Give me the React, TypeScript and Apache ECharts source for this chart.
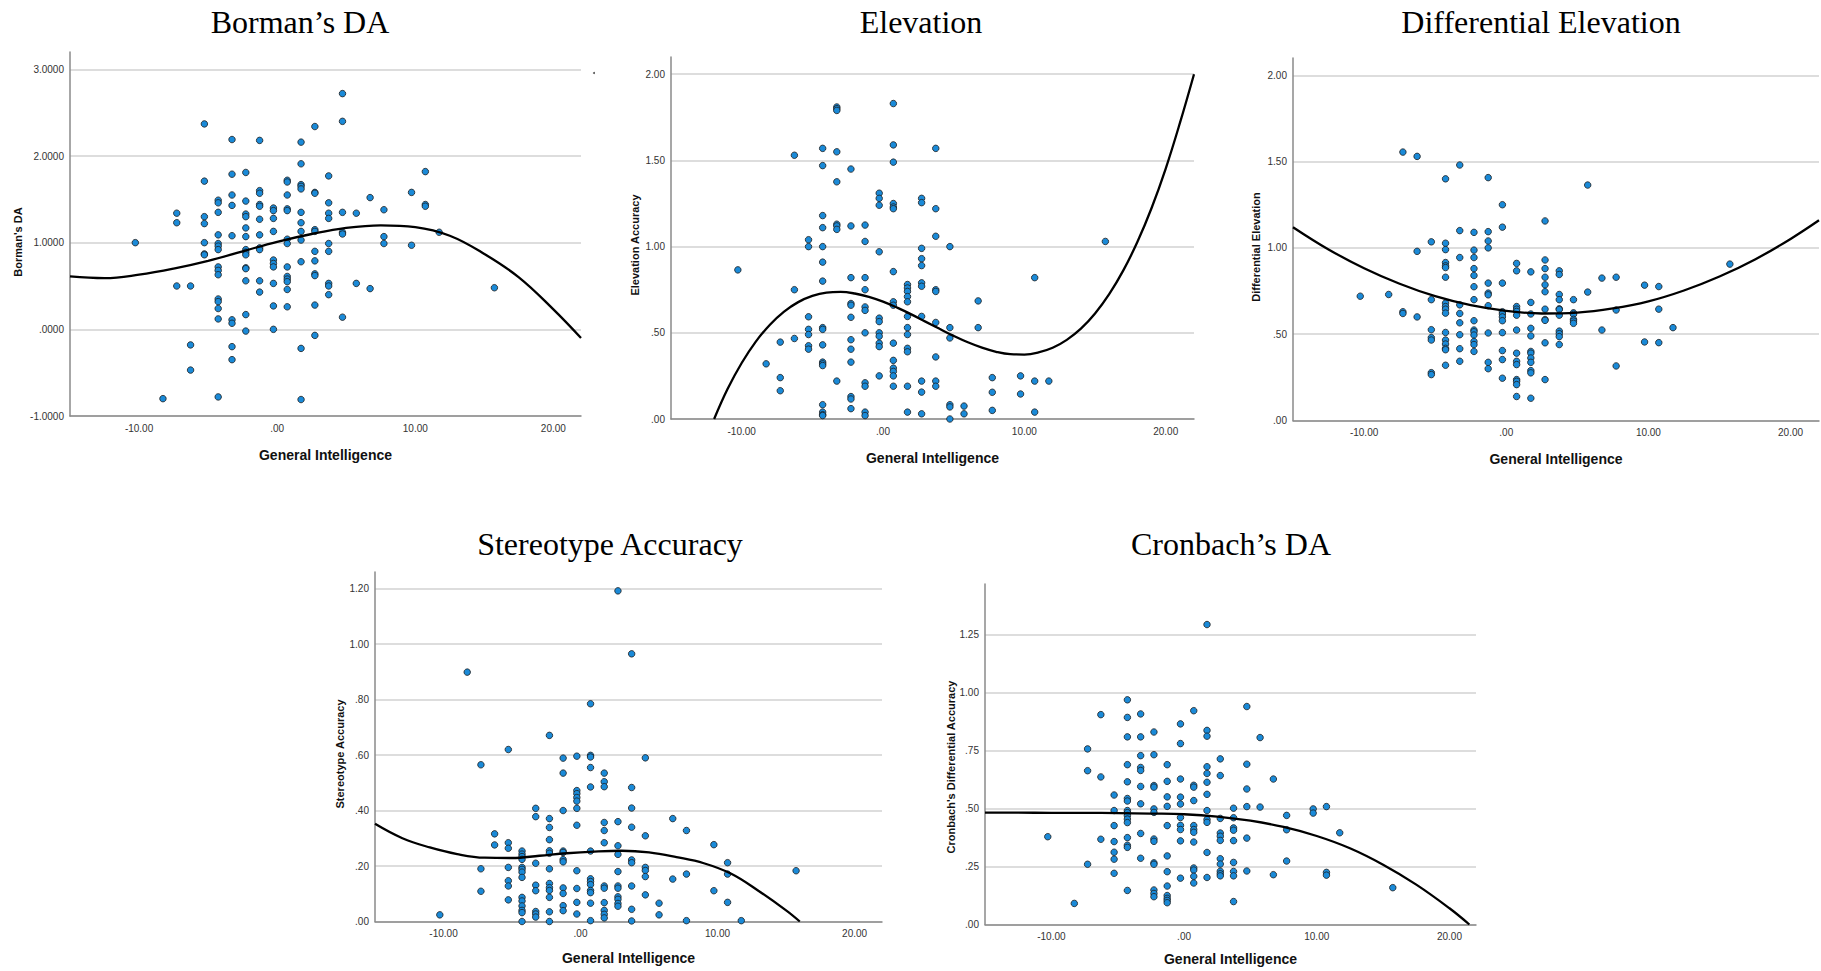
import React, { useEffect, useRef } from "react";
import * as echarts from "echarts";

// General Intelligence score columns (shared x positions of all panels)
const iqColumns = [-10.27, -8.27, -7.27, -6.27, -5.27, -4.27, -3.27, -2.27, -1.27, -0.27, 0.73, 1.73, 2.73, 3.73, 4.73, 5.73, 6.73, 7.73, 9.73, 10.73, 11.73, 15.73];

const xTickValues = [-10, 0, 10, 20];

// Borman's DA values per column
const bormanDA = [
  [1.0],
  [-0.8],
  [1.34, 1.23, 0.5],
  [0.5, -0.18, -0.47],
  [2.37, 1.71, 1.3, 1.22, 1.0, 0.87, 0.86],
  [1.49, 1.46, 1.35, 1.09, 0.99, 0.96, 0.92, 0.72, 0.68, 0.63, 0.35, 0.32, 0.24, 0.12, -0.78],
  [2.19, 1.79, 1.55, 1.43, 1.08, 0.11, 0.07, -0.2, -0.35],
  [1.81, 1.48, 1.33, 1.3, 1.17, 1.07, 0.92, 0.89, 0.86, 0.71, 0.7, 0.56, 0.17, -0.02],
  [2.18, 1.6, 1.57, 1.44, 1.42, 1.27, 1.09, 0.94, 0.92, 0.56, 0.43],
  [1.4, 1.37, 1.28, 1.13, 0.8, 0.76, 0.72, 0.53, 0.27, 0.0],
  [1.72, 1.7, 1.55, 1.39, 1.37, 1.04, 0.99, 0.72, 0.61, 0.58, 0.55, 0.46, 0.26],
  [2.16, 1.91, 1.67, 1.65, 1.62, 1.35, 1.23, 1.13, 1.03, 0.78, -0.22, -0.81],
  [2.34, 1.58, 1.57, 1.15, 1.13, 0.9, 0.79, 0.64, 0.62, 0.28, -0.07],
  [1.77, 1.46, 1.34, 1.28, 0.99, 0.9, 0.53, 0.5, 0.4],
  [2.72, 2.4, 1.35, 1.12, 1.1, 0.14],
  [1.34, 0.53],
  [1.52, 0.47],
  [1.38, 1.07, 0.99],
  [1.58, 0.97],
  [1.82, 1.44, 1.42],
  [1.12],
  [0.48],
];

// Elevation Accuracy values per column
const elevation = [
  [0.865],
  [0.32],
  [0.446, 0.24, 0.164],
  [1.53, 0.75, 0.467],
  [1.04, 1.0, 0.593, 0.52, 0.49, 0.425, 0.405],
  [1.57, 1.47, 1.18, 1.11, 1.0, 0.91, 0.8, 0.53, 0.52, 0.43, 0.33, 0.32, 0.31, 0.083, 0.04, 0.025, 0.02],
  [1.81, 1.8, 1.79, 1.55, 1.376, 1.13, 1.12, 1.1, 0.22],
  [1.45, 1.12, 0.82, 0.67, 0.66, 0.59, 0.46, 0.405, 0.33, 0.13, 0.116, 0.06],
  [1.125, 1.03, 0.82, 0.75, 0.65, 0.63, 0.5, 0.21, 0.19, 0.04, 0.02],
  [1.31, 1.28, 1.24, 0.97, 0.585, 0.565, 0.5, 0.48, 0.44, 0.42, 0.25],
  [1.83, 1.59, 1.49, 1.25, 1.23, 1.22, 0.855, 0.68, 0.66, 0.44, 0.34, 0.295, 0.276, 0.25, 0.19],
  [0.78, 0.76, 0.74, 0.71, 0.68, 0.595, 0.53, 0.49, 0.41, 0.39, 0.19, 0.04],
  [1.28, 1.255, 0.99, 0.93, 0.89, 0.79, 0.77, 0.595, 0.22, 0.156, 0.03],
  [1.57, 1.22, 1.06, 0.75, 0.74, 0.56, 0.36, 0.22, 0.19],
  [1.0, 0.53, 0.47, 0.083, 0.07, 0.0],
  [0.075, 0.03],
  [0.685, 0.53],
  [0.24, 0.155, 0.05],
  [0.25, 0.145],
  [0.82, 0.22, 0.04],
  [0.22],
  [1.03],
];

// Differential Elevation values per column
const diffElevation = [
  [0.72],
  [0.73],
  [1.555, 0.63, 0.62],
  [1.53, 0.98, 0.6],
  [1.035, 0.7, 0.526, 0.48, 0.466, 0.277, 0.266],
  [1.4, 1.027, 0.99, 0.915, 0.896, 0.886, 0.83, 0.68, 0.66, 0.645, 0.622, 0.51, 0.466, 0.443, 0.418, 0.41, 0.32],
  [1.48, 1.1, 0.944, 0.67, 0.62, 0.566, 0.497, 0.416, 0.343],
  [1.09, 0.987, 0.944, 0.88, 0.84, 0.775, 0.7, 0.578, 0.524, 0.514, 0.495, 0.458, 0.44, 0.4],
  [1.407, 1.094, 1.04, 1.0, 0.796, 0.738, 0.728, 0.665, 0.507, 0.337, 0.3],
  [1.25, 1.12, 0.796, 0.63, 0.617, 0.6, 0.578, 0.509, 0.405, 0.353, 0.245],
  [0.91, 0.867, 0.66, 0.645, 0.632, 0.61, 0.524, 0.39, 0.343, 0.324, 0.237, 0.227, 0.208, 0.139],
  [0.861, 0.684, 0.617, 0.534, 0.49, 0.4, 0.39, 0.362, 0.337, 0.289, 0.276, 0.129],
  [1.156, 0.93, 0.88, 0.83, 0.786, 0.746, 0.645, 0.585, 0.58, 0.45, 0.237],
  [0.867, 0.846, 0.73, 0.7, 0.647, 0.643, 0.61, 0.518, 0.503, 0.486, 0.44],
  [0.7, 0.624, 0.615, 0.586, 0.576, 0.563],
  [1.364, 0.744],
  [0.825, 0.524],
  [0.83, 0.64, 0.316],
  [0.784, 0.455],
  [0.776, 0.645, 0.451],
  [0.538],
  [0.906],
];

// Stereotype Accuracy values per column
const stereotype = [
  [0.024],
  [0.899],
  [0.565, 0.19, 0.109],
  [0.316, 0.276],
  [0.62, 0.284, 0.264, 0.195, 0.147, 0.128, 0.078],
  [0.254, 0.243, 0.234, 0.224, 0.195, 0.188, 0.178, 0.159, 0.087, 0.074, 0.056, 0.04, 0.032, 0.0],
  [0.408, 0.378, 0.21, 0.131, 0.111, 0.036, 0.027, 0.016],
  [0.671, 0.371, 0.339, 0.295, 0.255, 0.246, 0.19, 0.137, 0.122, 0.112, 0.087, 0.035, 0.0],
  [0.589, 0.535, 0.4, 0.254, 0.249, 0.223, 0.215, 0.121, 0.101, 0.057, 0.039],
  [0.596, 0.472, 0.461, 0.447, 0.434, 0.408, 0.347, 0.183, 0.119, 0.069, 0.027],
  [0.785, 0.599, 0.593, 0.555, 0.485, 0.254, 0.154, 0.144, 0.133, 0.112, 0.104, 0.066, 0.003],
  [0.535, 0.504, 0.486, 0.357, 0.328, 0.284, 0.128, 0.12, 0.068, 0.04, 0.026, 0.013],
  [1.192, 0.36, 0.273, 0.242, 0.18, 0.128, 0.12, 0.089, 0.08, 0.065, 0.055],
  [0.965, 0.483, 0.409, 0.34, 0.222, 0.212, 0.128, 0.044, 0.002],
  [0.59, 0.309, 0.195, 0.184, 0.162, 0.096],
  [0.066, 0.024],
  [0.371, 0.153],
  [0.328, 0.171, 0.003],
  [0.277, 0.111],
  [0.212, 0.171, 0.069],
  [0.003],
  [0.183],
];

// Cronbach's Differential Accuracy values per column
const cronbach = [
  [0.379],
  [0.091],
  [0.758, 0.664, 0.26],
  [0.906, 0.637, 0.368],
  [0.559, 0.492, 0.427, 0.358, 0.312, 0.282, 0.221],
  [0.97, 0.894, 0.81, 0.69, 0.616, 0.544, 0.533, 0.492, 0.483, 0.47, 0.455, 0.44, 0.375, 0.342, 0.333, 0.147],
  [0.909, 0.81, 0.729, 0.678, 0.665, 0.596, 0.521, 0.393, 0.286],
  [0.831, 0.733, 0.6, 0.593, 0.499, 0.484, 0.369, 0.359, 0.266, 0.26, 0.149, 0.134, 0.12],
  [0.69, 0.618, 0.551, 0.51, 0.427, 0.296, 0.228, 0.166, 0.125, 0.113, 0.104, 0.094],
  [0.866, 0.781, 0.628, 0.55, 0.52, 0.462, 0.428, 0.41, 0.361, 0.2],
  [0.923, 0.601, 0.593, 0.535, 0.427, 0.41, 0.398, 0.356, 0.244, 0.235, 0.208, 0.179],
  [1.295, 0.838, 0.813, 0.681, 0.652, 0.614, 0.562, 0.492, 0.453, 0.441, 0.311, 0.203],
  [0.715, 0.643, 0.458, 0.395, 0.381, 0.363, 0.284, 0.261, 0.23, 0.219, 0.21],
  [0.502, 0.461, 0.417, 0.407, 0.362, 0.268, 0.229, 0.21, 0.099],
  [0.941, 0.692, 0.585, 0.509, 0.373, 0.231],
  [0.807, 0.507],
  [0.628, 0.215],
  [0.471, 0.409, 0.274],
  [0.499, 0.481],
  [0.509, 0.225, 0.213],
  [0.396],
  [0.159],
];

// Fit curves
const bormanFitX = [-15, -12.5, -10, -7.5, -5, -2.5, 0, 2.5, 5, 7.5, 10, 12.5, 15, 17.5, 20, 22];
const bormanFitY = [0.61, 0.59, 0.63, 0.7, 0.79, 0.9, 1.01, 1.1, 1.17, 1.2, 1.18, 1.08, 0.87, 0.6, 0.23, -0.1];
const elevationFitX = [-11.95, -11, -10, -9, -8, -7, -6, -5, -4, -3, -2, -1, 0, 1, 2, 3, 4, 5, 6, 7, 8, 9, 10, 11, 12, 13, 14, 15, 16, 17, 18, 19, 20, 21, 22];
const elevationFitY = [0, 0.174, 0.325, 0.449, 0.547, 0.623, 0.678, 0.714, 0.733, 0.737, 0.728, 0.709, 0.681, 0.646, 0.607, 0.565, 0.523, 0.482, 0.445, 0.414, 0.39, 0.376, 0.374, 0.386, 0.413, 0.459, 0.524, 0.612, 0.724, 0.862, 1.028, 1.224, 1.453, 1.716, 2.0];
const diffFitX = [-15, -12.5, -10, -7.5, -5, -2.5, 0, 2.5, 5, 7.5, 10, 12.5, 15, 17.5, 20, 22];
const diffFitY = [1.12, 0.991, 0.882, 0.792, 0.72, 0.668, 0.635, 0.62, 0.625, 0.649, 0.69, 0.753, 0.834, 0.933, 1.052, 1.16];
const stereoFitX = [-15, -13, -11, -9, -7, -5, -3, -1, 1, 3, 5, 7, 9, 11, 13, 15, 16];
const stereoFitY = [0.352, 0.3, 0.267, 0.243, 0.23, 0.229, 0.237, 0.246, 0.252, 0.255, 0.249, 0.232, 0.21, 0.172, 0.11, 0.04, 0.0];
const cronbachFitX = [-15, -12.5, -10, -7.5, -5, -2.5, 0, 2.5, 5, 7.5, 10, 12.5, 15, 17.5, 20, 21.5];
const cronbachFitY = [0.483, 0.483, 0.482, 0.482, 0.481, 0.479, 0.476, 0.466, 0.448, 0.421, 0.382, 0.329, 0.258, 0.172, 0.07, 0.0];

// Y tick labels per panel
const bormanTicks = [-1, 0, 1, 2, 3];
const elevationTicks = [0, 0.5, 1, 1.5, 2];
const diffTicks = [0, 0.5, 1, 1.5, 2];
const stereoTicks = [0, 0.2, 0.4, 0.6, 0.8, 1.0, 1.2];
const cronbachTicks = [0, 0.25, 0.5, 0.75, 1.0, 1.25];

const titles = ["Borman\u2019s DA", "Elevation", "Differential Elevation", "Stereotype Accuracy", "Cronbach\u2019s DA"];
const yNames = ["Borman's DA", "Elevation Accuracy", "Differential Elevation", "Stereotype Accuracy", "Cronbach's Differential Accuracy"];
const xName = "General Intelligence";

const panels = [
  { data: bormanDA, fx: bormanFitX, fy: bormanFitY, ticks: bormanTicks, yMin: -1, yMax: 3.2, dec: 4,
    grid: { left: 70, top: 52, width: 511, height: 364 }, title: [300, 22], yName: [18, 242], xName: [325.5, 455] },
  { data: elevation, fx: elevationFitX, fy: elevationFitY, ticks: elevationTicks, yMin: 0, yMax: 2.1, dec: 2,
    grid: { left: 671, top: 57, width: 523, height: 362 }, title: [921, 22], yName: [635, 245], xName: [932.5, 457.5] },
  { data: diffElevation, fx: diffFitX, fy: diffFitY, ticks: diffTicks, yMin: 0, yMax: 2.1, dec: 2,
    grid: { left: 1293, top: 58, width: 526, height: 362.5 }, title: [1541, 22], yName: [1256, 247], xName: [1556, 458.5] },
  { data: stereotype, fx: stereoFitX, fy: stereoFitY, ticks: stereoTicks, yMin: 0, yMax: 1.26, dec: 2,
    grid: { left: 375, top: 572, width: 507, height: 349.5 }, title: [610, 544], yName: [340, 754], xName: [628.5, 958] },
  { data: cronbach, fx: cronbachFitX, fy: cronbachFitY, ticks: cronbachTicks, yMin: 0, yMax: 1.47, dec: 2,
    grid: { left: 985, top: 584, width: 491, height: 340.5 }, title: [1231, 544], yName: [951, 767], xName: [1230.5, 959] },
];

function fmt(v: number, d: number): string {
  const s = Math.abs(v).toFixed(d);
  const t = s.startsWith("0.") ? s.slice(1) : s;
  return (v < 0 ? "-" : "") + t;
}

function toPoints(cols: number[][]): number[][] {
  const pts: number[][] = [];
  cols.forEach((ys, i) => ys.forEach((y) => pts.push([iqColumns[i], y])));
  return pts;
}

const SANS = "'Liberation Sans', Arial, sans-serif";
const SERIF = "'Liberation Serif', 'Times New Roman', serif";

export default function App() {
  const ref = useRef<HTMLDivElement>(null);
  useEffect(() => {
    if (!ref.current) return;
    const chart = echarts.init(ref.current, undefined, { renderer: "svg" });
    const graphics: any[] = [];
    panels.forEach((p, i) => {
      graphics.push({
        type: "text", x: p.title[0], y: p.title[1], silent: true,
        style: { text: titles[i], fontSize: 32, fontFamily: SERIF, fill: "#000", align: "center", verticalAlign: "middle", textAlign: "center", textVerticalAlign: "middle" },
      });
      graphics.push({
        type: "text", x: p.yName[0], y: p.yName[1], rotation: Math.PI / 2, silent: true,
        style: { text: yNames[i], fontSize: 11, fontWeight: "bold", fontFamily: SANS, fill: "#111", align: "center", verticalAlign: "middle", textAlign: "center", textVerticalAlign: "middle" },
      });
      graphics.push({
        type: "text", x: p.xName[0], y: p.xName[1], silent: true,
        style: { text: xName, fontSize: 14, fontWeight: "bold", fontFamily: SANS, fill: "#111", align: "center", verticalAlign: "middle", textAlign: "center", textVerticalAlign: "middle" },
      });
    });
    graphics.push({ type: "circle", shape: { cx: 594, cy: 73, r: 1 }, style: { fill: "#555" }, silent: true });

    const option: any = {
      animation: false,
      backgroundColor: "#fff",
      grid: panels.map((p) => ({ ...p.grid, containLabel: false })),
      xAxis: panels.map((p, i) => ({
        type: "value", gridIndex: i, min: -15, max: 22,
        axisLine: { show: true, onZero: false, lineStyle: { color: "#8a8a8a", width: 1.5 } },
        axisTick: { show: false, customValues: xTickValues },
        axisLabel: { customValues: xTickValues, formatter: (v: number) => fmt(v, 2), fontSize: 10, color: "#333", margin: 7, fontFamily: SANS },
        splitLine: { show: false },
      })),
      yAxis: panels.map((p, i) => ({
        type: "value", gridIndex: i, min: p.yMin, max: p.yMax,
        axisLine: { show: true, onZero: false, lineStyle: { color: "#8a8a8a", width: 1.5 } },
        axisTick: { show: false, customValues: p.ticks },
        axisLabel: { customValues: p.ticks, formatter: (v: number) => fmt(v, p.dec), fontSize: 10, color: "#333", margin: 6, fontFamily: SANS },
        splitLine: { show: true, lineStyle: { color: "#d2d2d2", width: 1.5 } },
      })),
      series: panels.flatMap((p, i) => [
        {
          type: "scatter", xAxisIndex: i, yAxisIndex: i, data: toPoints(p.data), symbol: "circle", symbolSize: 6.5,
          itemStyle: { color: "#1a8ad8", borderColor: "#1c1c1c", borderWidth: 0.8, opacity: 1 }, z: 2, silent: true,
        },
        {
          type: "line", xAxisIndex: i, yAxisIndex: i, data: p.fx.map((x, k) => [x, p.fy[k]]), smooth: 0.4, showSymbol: false,
          lineStyle: { color: "#000", width: 2.3 }, z: 3, silent: true, clip: true,
        },
      ]),
      graphic: graphics,
    };
    chart.setOption(option);
    return () => chart.dispose();
  }, []);
  return <div ref={ref} style={{ position: "fixed", left: 0, top: 0, width: 1821, height: 971, background: "#fff" }} />;
}
